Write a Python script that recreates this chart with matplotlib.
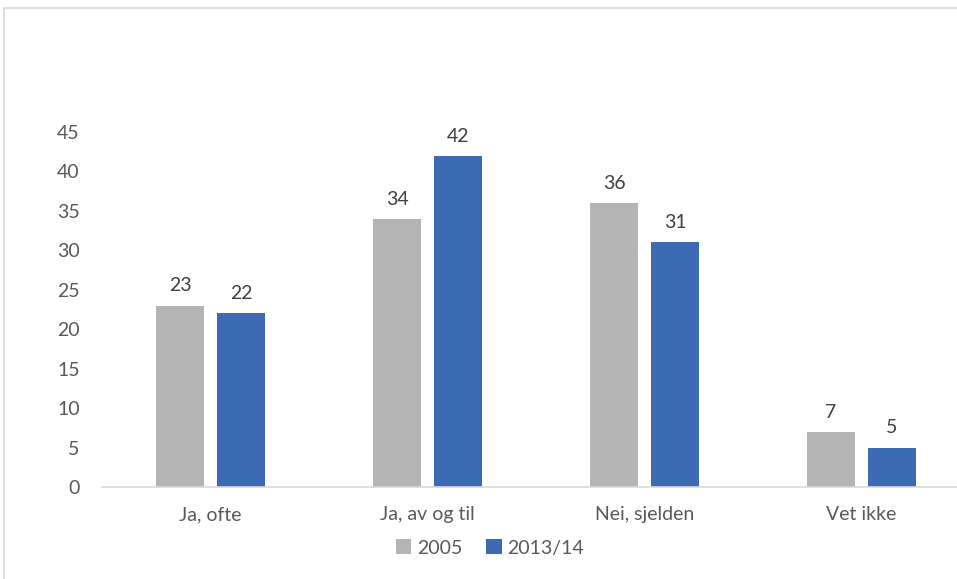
import numpy as np
import matplotlib.pyplot as plt
from matplotlib.patches import Rectangle

# survey answers, percent
categories = ['Ja, ofte', 'Ja, av og til', 'Nei, sjelden', 'Vet ikke']
v2005 = [23, 34, 36, 7]
v2013 = [22, 42, 31, 5]
series_names = ['2005', '2013/14']

plt.rcParams['font.family'] = ['Lato', 'DejaVu Sans']
grey_txt = '#595959'

fig = plt.figure(figsize=(9.57, 5.79), dpi=100)
ax = fig.add_axes([0.1066, 0.1589, 0.907, 0.6131])

x = np.arange(len(categories))
w = 0.221
off = 0.1406
b1 = ax.bar(x - off, v2005, w, color='#B4B4B4', label=series_names[0])
b2 = ax.bar(x + off, v2013, w, color='#3C6BB4', label=series_names[1])

for bars in (b1, b2):
    for b in bars:
        ax.annotate('%d' % b.get_height(), (b.get_x() + b.get_width()/2, b.get_height()),
                    xytext=(0, 8), textcoords='offset points', ha='center', va='bottom',
                    fontsize=14, color='#404040')

ax.set_xlim(-0.5, len(categories) - 0.5)
ax.set_ylim(0, 45)
ax.set_yticks(range(0, 46, 5))
ax.set_xticks(x)
ax.set_xticklabels(categories)
ax.tick_params(axis='both', length=0, labelsize=14, labelcolor=grey_txt)
ax.tick_params(axis='y', pad=16)
ax.tick_params(axis='x', pad=14)
for s in ['top', 'right', 'left']:
    ax.spines[s].set_visible(False)
ax.spines['bottom'].set_color('#D9D9D9')
ax.spines['bottom'].set_linewidth(1.2)

leg = ax.legend(loc='center', bbox_to_anchor=(490/957, 1 - 548/579), bbox_transform=fig.transFigure,
                ncol=2, frameon=False, fontsize=14, handlelength=0.8, handleheight=0.8,
                handletextpad=0.3, columnspacing=1.2)
for t in leg.get_texts():
    t.set_color(grey_txt)

# outer chart border
fig.patches.append(Rectangle((4/957, -0.01), 1.0, 1 - 8/579 + 0.01, transform=fig.transFigure,
                             fill=False, edgecolor='#D9D9D9', linewidth=1.2))

fig.savefig('out.png', dpi=100)
